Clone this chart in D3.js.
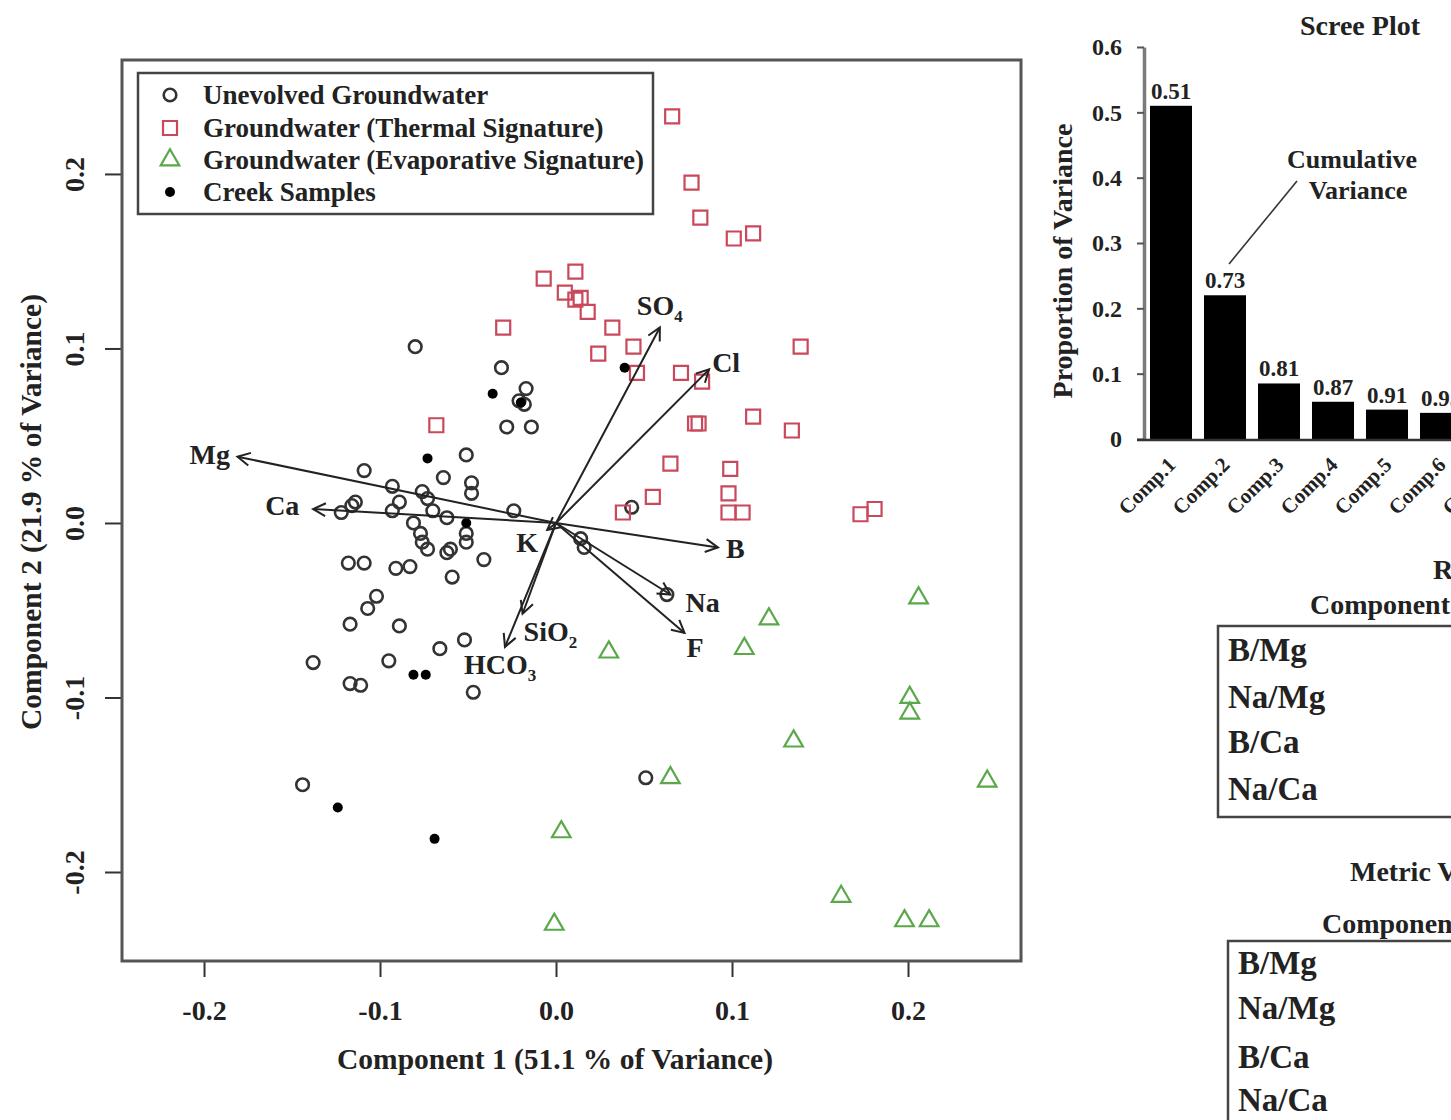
<!DOCTYPE html>
<html>
<head>
<meta charset="utf-8">
<title>PCA biplot and scree plot</title>
<script src="https://cdn.jsdelivr.net/npm/d3@7"></script>
<style>
body { margin: 0; background: #fff; }
svg text { font-family: "Liberation Serif", "Times New Roman", Times, serif; font-weight: bold; }
</style>
</head>
<body>
<script>
// ---- values ----

// PCA scores, [Component 1, Component 2]
var unevolved = [
    [-0.080, 0.101], [-0.031, 0.089], [-0.017, 0.077], [-0.021, 0.070], [-0.018, 0.068],
    [-0.028, 0.055], [-0.014, 0.055], [-0.051, 0.039], [-0.109, 0.030], [-0.064, 0.026],
    [-0.048, 0.023], [-0.048, 0.017], [-0.093, 0.021], [-0.076, 0.018], [-0.073, 0.014],
    [-0.089, 0.012], [-0.093, 0.007], [-0.114, 0.012], [-0.116, 0.010], [-0.122, 0.006],
    [-0.070, 0.007], [-0.062, 0.003], [-0.024, 0.007], [-0.081, 0.000], [-0.077, -0.006],
    [-0.076, -0.011], [-0.073, -0.015], [-0.051, -0.006], [-0.051, -0.011], [-0.062, -0.017],
    [-0.060, -0.015], [-0.041, -0.021], [-0.118, -0.023], [-0.109, -0.023], [-0.091, -0.026],
    [-0.083, -0.025], [-0.059, -0.031], [-0.102, -0.042], [-0.107, -0.049], [-0.117, -0.058],
    [-0.089, -0.059], [-0.066, -0.072], [-0.052, -0.067], [-0.095, -0.079], [-0.138, -0.080],
    [-0.117, -0.092], [-0.111, -0.093], [-0.047, -0.097], [-0.144, -0.150], [0.051, -0.146],
    [0.043, 0.009], [0.014, -0.009], [0.016, -0.014], [0.063, -0.041]
];
var thermal = [
    [0.066, 0.233], [0.077, 0.195], [0.082, 0.175], [0.101, 0.163], [0.112, 0.166],
    [-0.007, 0.140], [0.011, 0.144], [0.005, 0.132], [0.014, 0.129], [0.011, 0.128],
    [0.018, 0.121], [-0.030, 0.112], [0.032, 0.112], [0.024, 0.097], [0.044, 0.101],
    [0.139, 0.101], [0.046, 0.086], [0.071, 0.086], [0.083, 0.081], [-0.068, 0.056],
    [0.081, 0.057], [0.079, 0.057], [0.112, 0.061], [0.134, 0.053], [0.065, 0.034],
    [0.099, 0.031], [0.055, 0.015], [0.098, 0.017], [0.038, 0.006], [0.098, 0.006],
    [0.106, 0.006], [0.173, 0.005], [0.181, 0.008]
];
var evaporative = [
    [0.206, -0.043], [0.121, -0.055], [0.030, -0.074], [0.107, -0.072], [0.201, -0.100],
    [0.201, -0.109], [0.135, -0.125], [0.065, -0.146], [0.245, -0.148], [0.003, -0.177],
    [0.162, -0.214], [-0.001, -0.230], [0.198, -0.228], [0.212, -0.228]
];
var creek = [
    [0.039, 0.089], [-0.036, 0.074], [-0.020, 0.069], [-0.073, 0.037], [-0.051, 0.000],
    [-0.081, -0.087], [-0.074, -0.087], [-0.124, -0.163], [-0.069, -0.181]
];

// loadings, drawn as arrows in the same units as the scores
var loadNames = ["Mg", "Ca", "K", "B", "Na", "F", "SiO2", "HCO3", "SO4", "Cl"];
var loadC1 = [-0.181, -0.138, -0.005, 0.092, 0.065, 0.073, -0.019, -0.029, 0.059, 0.087];
var loadC2 = [0.038, 0.008, -0.004, -0.014, -0.041, -0.063, -0.052, -0.071, 0.112, 0.088];

var xTicks = [-0.2, -0.1, 0.0, 0.1, 0.2];
var yTicks = [-0.2, -0.1, 0.0, 0.1, 0.2];
var legendLabels = ["Unevolved Groundwater", "Groundwater (Thermal Signature)",
    "Groundwater (Evaporative Signature)", "Creek Samples"];

// scree plot
var comps = ["Comp.1", "Comp.2", "Comp.3", "Comp.4", "Comp.5", "Comp.6", "Comp.7"];
var propVar = [0.51, 0.22, 0.085, 0.057, 0.045, 0.040, 0.030];
var cumVar = ["0.51", "0.73", "0.81", "0.87", "0.91", "0.95", "0.98"];
var screeTicks = [0, 0.1, 0.2, 0.3, 0.4, 0.5, 0.6];

// ratio tables, only the row names fall inside the picture
var ratioRows = ["B/Mg", "Na/Mg", "B/Ca", "Na/Ca"];

// ---- setup ----
var W = 1451, H = 1120;
var ink = "#222";
var red = "#c9485b";
var green = "#5aa84a";

var svg = d3.select("body")
    .append("svg")
    .attr("width", W)
    .attr("height", H);

// ================= biplot =================
var x = d3.scaleLinear().domain([-0.2466, 0.2642]).range([122, 1021]);
var y = d3.scaleLinear().domain([-0.2510, 0.2653]).range([961, 60]);

var xAxis = d3.axisBottom(x)
    .tickValues(xTicks)
    .tickSize(16)
    .tickPadding(23)
    .tickFormat(function (d) { return d.toFixed(1); });
var gx = svg.append("g").attr("transform", "translate(0,961)").call(xAxis);
gx.select(".domain").remove();
gx.selectAll("line").attr("stroke", "#333").attr("stroke-width", 2);
gx.selectAll("text").attr("font-size", 28).attr("fill", ink);

var yAxis = d3.axisLeft(y)
    .tickValues(yTicks)
    .tickSize(17)
    .tickFormat(function (d) { return d.toFixed(1); });
var gy = svg.append("g").attr("transform", "translate(122,0)").call(yAxis);
gy.select(".domain").remove();
gy.selectAll("line").attr("stroke", "#333").attr("stroke-width", 2);
gy.selectAll("text")
    .attr("x", 0)
    .attr("dy", 0)
    .attr("text-anchor", "middle")
    .attr("transform", "translate(-38,0) rotate(-90)")
    .attr("font-size", 28)
    .attr("fill", ink);

// axis titles
svg.append("text")
    .attr("x", 555)
    .attr("y", 1069)
    .attr("text-anchor", "middle")
    .attr("font-size", 29.5)
    .attr("fill", ink)
    .text("Component 1 (51.1 % of Variance)");

svg.append("text")
    .attr("transform", "translate(41,512) rotate(-90)")
    .attr("text-anchor", "middle")
    .attr("font-size", 29.5)
    .attr("fill", ink)
    .text("Component 2 (21.9 % of Variance)");

// plot frame
svg.append("rect")
    .attr("x", 122).attr("y", 60)
    .attr("width", 899).attr("height", 901)
    .attr("fill", "none")
    .attr("stroke", "#555")
    .attr("stroke-width", 3);

// marker helpers
function drawCircles(g, pts) {
    g.selectAll("circle.pt")
        .data(pts)
        .enter()
        .append("circle")
        .attr("class", "pt")
        .attr("cx", function (d) { return x(d[0]); })
        .attr("cy", function (d) { return y(d[1]); })
        .attr("r", 6.3)
        .attr("fill", "none")
        .attr("stroke", "#333")
        .attr("stroke-width", 2.6);
}

var squareSym = d3.symbol().type(d3.symbolSquare).size(196);
var triSym = d3.symbol().type(d3.symbolTriangle).size(150);

function drawSymbols(g, pts, sym, color) {
    g.selectAll("path.pt")
        .data(pts)
        .enter()
        .append("path")
        .attr("class", "pt")
        .attr("d", sym)
        .attr("transform", function (d) { return "translate(" + x(d[0]) + "," + y(d[1]) + ")"; })
        .attr("fill", "none")
        .attr("stroke", color)
        .attr("stroke-width", 2.2);
}

function drawDots(g, pts) {
    g.selectAll("circle.dot")
        .data(pts)
        .enter()
        .append("circle")
        .attr("class", "dot")
        .attr("cx", function (d) { return x(d[0]); })
        .attr("cy", function (d) { return y(d[1]); })
        .attr("r", 5)
        .attr("fill", "#000");
}

drawCircles(svg.append("g"), unevolved);
drawSymbols(svg.append("g"), thermal, squareSym, red);
drawSymbols(svg.append("g"), evaporative, triSym, green);
drawDots(svg.append("g"), creek);

// loading arrows
var loads = loadNames.map(function (n, i) {
    return { name: n, c1: loadC1[i], c2: loadC2[i] };
});

// where each label sits relative to its arrow tip: [start x, middle y]
var labelOffset = {
    Mg: [-48, -2], Ca: [-48, -3], K: [-31, 13], B: [8, 2], Na: [15, 8], F: [2, 15],
    SiO2: [1, 18], HCO3: [-41, 18], SO4: [-23, -22], Cl: [3, -6]
};

var x0 = x(0), y0 = y(0);
var headLen = 14, headAng = 0.48;
var gArrows = svg.append("g");

gArrows.selectAll("line")
    .data(loads)
    .enter()
    .append("line")
    .attr("x1", x0).attr("y1", y0)
    .attr("x2", function (d) { return x(d.c1); })
    .attr("y2", function (d) { return y(d.c2); })
    .attr("stroke", ink)
    .attr("stroke-width", 2);

gArrows.selectAll("path")
    .data(loads)
    .enter()
    .append("path")
    .attr("d", function (d) {
        var tx = x(d.c1), ty = y(d.c2);
        var a = Math.atan2(ty - y0, tx - x0);
        var p = d3.path();
        p.moveTo(tx - headLen * Math.cos(a - headAng), ty - headLen * Math.sin(a - headAng));
        p.lineTo(tx, ty);
        p.lineTo(tx - headLen * Math.cos(a + headAng), ty - headLen * Math.sin(a + headAng));
        return p.toString();
    })
    .attr("fill", "none")
    .attr("stroke", ink)
    .attr("stroke-width", 2);

var labels = gArrows.selectAll("text")
    .data(loads)
    .enter()
    .append("text")
    .attr("x", function (d) { return x(d.c1) + labelOffset[d.name][0]; })
    .attr("y", function (d) { return y(d.c2) + labelOffset[d.name][1] + 9; })
    .attr("font-size", 28)
    .attr("fill", ink);

labels.each(function (d) {
    var t = d3.select(this);
    var m = d.name.match(/^([A-Za-z]+?)(\d)$/);
    if (m) {
        t.append("tspan").text(m[1]);
        t.append("tspan").attr("font-size", 17).attr("dy", 7).text(m[2]);
    } else {
        t.text(d.name);
    }
});

// legend
var gLeg = svg.append("g");
gLeg.append("rect")
    .attr("x", 138).attr("y", 73)
    .attr("width", 515).attr("height", 141)
    .attr("fill", "#fff")
    .attr("stroke", "#444")
    .attr("stroke-width", 2.5);

var legRows = [95, 128, 160, 192];
drawLegendMarker(0, legRows[0]);
drawLegendMarker(1, legRows[1]);
drawLegendMarker(2, legRows[2]);
drawLegendMarker(3, legRows[3]);

function drawLegendMarker(k, ly) {
    if (k === 0) {
        gLeg.append("circle").attr("cx", 170).attr("cy", ly).attr("r", 6.3)
            .attr("fill", "none").attr("stroke", "#333").attr("stroke-width", 2.6);
    } else if (k === 1) {
        gLeg.append("path").attr("d", squareSym).attr("transform", "translate(170," + ly + ")")
            .attr("fill", "none").attr("stroke", red).attr("stroke-width", 2.2);
    } else if (k === 2) {
        gLeg.append("path").attr("d", triSym).attr("transform", "translate(170," + ly + ")")
            .attr("fill", "none").attr("stroke", green).attr("stroke-width", 2.2);
    } else {
        gLeg.append("circle").attr("cx", 170).attr("cy", ly).attr("r", 5).attr("fill", "#000");
    }
}

gLeg.selectAll("text")
    .data(legendLabels)
    .enter()
    .append("text")
    .attr("x", 203)
    .attr("y", function (d, i) { return legRows[i] + 9; })
    .attr("font-size", 27)
    .attr("fill", ink)
    .text(function (d) { return d; });

// ================= scree plot =================
var sy = d3.scaleLinear().domain([0, 0.6]).range([439, 47]);
var sx = d3.scaleBand()
    .domain(comps)
    .range([1144, 1144 + 54 * comps.length])
    .paddingInner(0.222)
    .paddingOuter(0.111);

var sAxis = d3.axisLeft(sy)
    .tickValues(screeTicks)
    .tickSize(7)
    .tickSizeOuter(0)
    .tickPadding(15)
    .tickFormat(function (d) { return d === 0 ? "0" : d.toFixed(1); });
var gs = svg.append("g").attr("transform", "translate(1144,0)").call(sAxis);
gs.select(".domain").attr("stroke", "#7a7a7a").attr("stroke-width", 3.5);
gs.selectAll("line").attr("stroke", "#555").attr("stroke-width", 2);
gs.selectAll("text").attr("font-size", 24).attr("fill", ink);

svg.append("g")
    .selectAll("rect")
    .data(propVar)
    .enter()
    .append("rect")
    .attr("x", function (d, i) { return sx(comps[i]); })
    .attr("y", function (d) { return sy(d); })
    .attr("width", sx.bandwidth())
    .attr("height", function (d) { return sy(0) - sy(d); })
    .attr("fill", "#000");

// baseline
svg.append("line")
    .attr("x1", 1137).attr("x2", W)
    .attr("y1", sy(0) + 1).attr("y2", sy(0) + 1)
    .attr("stroke", "#333")
    .attr("stroke-width", 2.5);

// cumulative labels above bars
svg.append("g")
    .selectAll("text")
    .data(cumVar)
    .enter()
    .append("text")
    .attr("x", function (d, i) { return sx(comps[i]) + sx.bandwidth() / 2; })
    .attr("y", function (d, i) { return sy(propVar[i]) - 7; })
    .attr("text-anchor", "middle")
    .attr("font-size", 23)
    .attr("fill", ink)
    .text(function (d) { return d; });

// slanted component names
svg.append("g")
    .selectAll("text")
    .data(comps)
    .enter()
    .append("text")
    .attr("transform", function (d) {
        return "translate(" + (sx(d) + sx.bandwidth() / 2 + 6) + ",466) rotate(-45)";
    })
    .attr("text-anchor", "end")
    .attr("font-size", 21)
    .attr("fill", ink)
    .text(function (d) { return d; });

svg.append("text")
    .attr("x", 1360).attr("y", 35)
    .attr("text-anchor", "middle")
    .attr("font-size", 28)
    .attr("fill", ink)
    .text("Scree Plot");

svg.append("text")
    .attr("transform", "translate(1072,261) rotate(-90)")
    .attr("text-anchor", "middle")
    .attr("font-size", 28)
    .attr("fill", ink)
    .text("Proportion of Variance");

// "Cumulative Variance" callout
svg.append("line")
    .attr("x1", 1229).attr("y1", 264)
    .attr("x2", 1297).attr("y2", 181)
    .attr("stroke", "#333")
    .attr("stroke-width", 1.6);
svg.append("text")
    .attr("x", 1352).attr("y", 168)
    .attr("text-anchor", "middle")
    .attr("font-size", 26)
    .attr("fill", ink)
    .text("Cumulative");
svg.append("text")
    .attr("x", 1358).attr("y", 199)
    .attr("text-anchor", "middle")
    .attr("font-size", 26)
    .attr("fill", ink)
    .text("Variance");

// ================= tables =================
function drawTable(title, tx, ty, hx, hy, bx, by, bh, rowX, rowY) {
    svg.append("text").attr("x", tx).attr("y", ty)
        .attr("font-size", 28).attr("fill", ink).text(title);
    svg.append("text").attr("x", hx).attr("y", hy)
        .attr("font-size", 28).attr("fill", ink).text("Component 1");
    svg.append("rect")
        .attr("x", bx).attr("y", by)
        .attr("width", 400).attr("height", bh)
        .attr("fill", "none")
        .attr("stroke", "#444")
        .attr("stroke-width", 2.5);
    svg.append("g")
        .selectAll("text")
        .data(ratioRows)
        .enter()
        .append("text")
        .attr("x", rowX)
        .attr("y", function (d, i) { return rowY[i]; })
        .attr("font-size", 33)
        .attr("fill", ink)
        .text(function (d) { return d; });
}

drawTable("Raw Values", 1433, 579, 1310, 614, 1218, 626, 191, 1228, [661, 708, 753, 800]);
drawTable("Metric Values", 1350, 881, 1322, 933, 1228, 941, 190, 1238, [974, 1019, 1068, 1111]);
</script>
</body>
</html>
